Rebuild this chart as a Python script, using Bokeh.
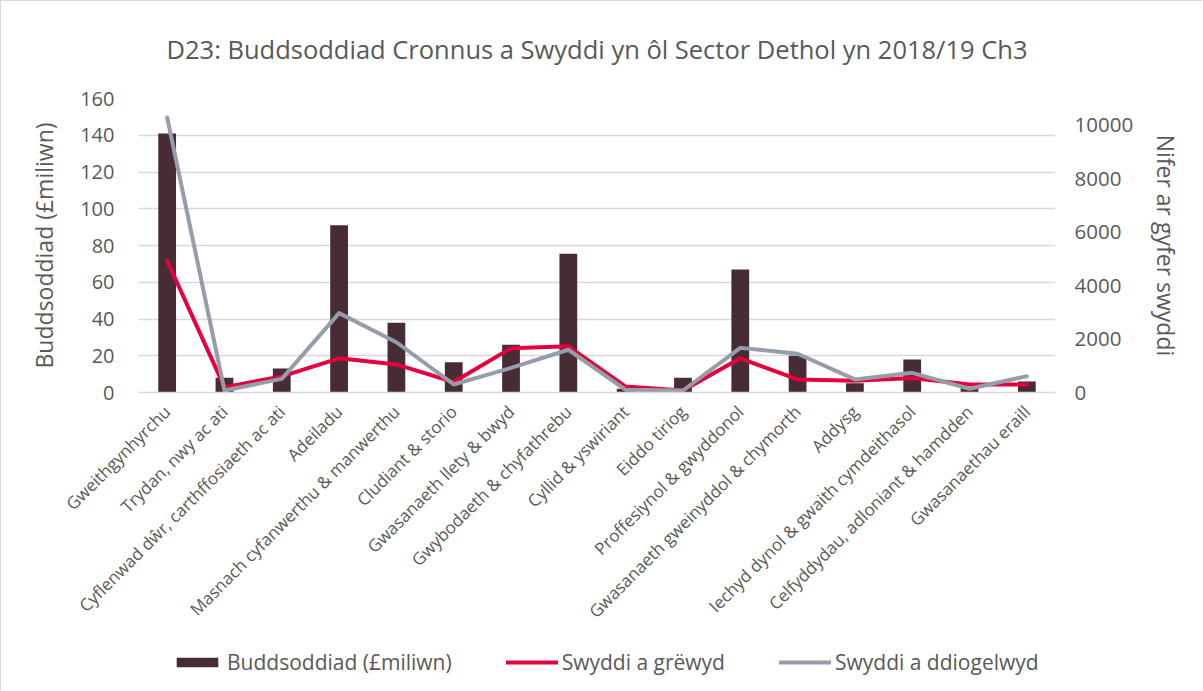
import math
from bokeh.plotting import figure
from bokeh.layouts import column
from bokeh.models import Range1d, LinearAxis, FactorRange, Legend, LegendItem, FixedTicker, ColumnDataSource
from bokeh.embed import file_html
from bokeh.resources import INLINE

categories = [
    "Gweithgynhyrchu", "Trydan, nwy ac ati", "Cyflenwad dŵr, carthffosiaeth ac ati",
    "Adeiladu", "Masnach cyfanwerthu & manwerthu", "Cludiant & storio",
    "Gwasanaeth llety & bwyd", "Gwybodaeth & chyfathrebu", "Cyllid & yswiriant",
    "Eiddo tiriog", "Proffesiynol & gwyddonol", "Gwasanaeth gweinyddol & chymorth",
    "Addysg", "Iechyd dynol & gwaith cymdeithasol", "Celfyddydau, adloniant & hamdden",
    "Gwasanaethau eraill",
]
investment = [141, 8, 13, 91, 38, 16.5, 26, 75.5, 2, 8, 67, 20, 5, 18, 2.5, 6]
jobs_created = [4930, 200, 600, 1280, 1050, 390, 1660, 1730, 220, 75, 1280, 490, 440, 540, 300, 300]
jobs_safeguarded = [10290, 75, 510, 2970, 1880, 300, 920, 1600, 100, 75, 1670, 1450, 490, 735, 140, 610]
left_ticks = [0, 20, 40, 60, 80, 100, 120, 140, 160]
right_ticks = [0, 2000, 4000, 6000, 8000, 10000]

title_text = "D23: Buddsoddiad Cronnus a Swyddi yn ôl Sector Dethol yn 2018/19 Ch3"
left_label = "Buddsoddiad (£miliwn)"
right_label = "Nifer ar gyfer swyddi"
series_names = ["Buddsoddiad (£miliwn)", "Swyddi a grëwyd", "Swyddi a ddiogelwyd"]

TXT = "#595959"
FONT = "Open Sans"
BAR_C, RED_C, GREY_C = "#472C36", "#E6003C", "#959DA8"

src = ColumnDataSource(dict(cat=categories, inv=investment, jc=jobs_created, js=jobs_safeguarded))

p = figure(
    x_range=FactorRange(*categories, range_padding=0),
    y_range=Range1d(0, 160),
    width=1202, height=640,
    output_backend="svg", toolbar_location=None,
    title=title_text + "\n\u00a0",
    min_border_left=137, min_border_right=148, min_border_top=97, min_border_bottom=249,
)
p.styles = {"border-left": "1px solid #d9d9d9", "border-top": "1px solid #d9d9d9"}
p.outline_line_color = None
p.extra_y_ranges = {"jobs": Range1d(0, 11000)}

p.title.align = "center"
p.title.text_font = FONT
p.title.text_font_size = "25.5px"
p.title.text_font_style = "normal"
p.title.text_color = TXT
p.title.text_line_height = 0.8

bars = p.vbar(x="cat", top="inv", width=0.31, source=src, fill_color=BAR_C, line_color=None)
p.line(x="cat", y="jc", source=src, y_range_name="jobs", line_color=RED_C, line_width=4, line_join="round", line_cap="round")
p.line(x="cat", y="js", source=src, y_range_name="jobs", line_color=GREY_C, line_width=4, line_join="round", line_cap="round")

p.xgrid.grid_line_color = None
p.ygrid.grid_line_color = "#D9D9D9"
p.ygrid.grid_line_width = 1.5
p.yaxis.ticker = FixedTicker(ticks=left_ticks)

ly = p.yaxis[0]
ly.axis_label = left_label
ly.axis_line_color = None
ly.major_tick_line_color = None
ly.minor_tick_line_color = None
ly.major_label_text_font = FONT
ly.major_label_text_font_size = "20px"
ly.major_label_text_color = TXT
ly.major_label_standoff = 18
ly.axis_label_text_font = FONT
ly.axis_label_text_font_size = "23px"
ly.axis_label_text_font_style = "normal"
ly.axis_label_text_color = TXT
ly.axis_label_standoff = 17

ry = LinearAxis(y_range_name="jobs", ticker=FixedTicker(ticks=right_ticks))
ry.axis_label = right_label
ry.axis_line_color = None
ry.major_tick_line_color = None
ry.minor_tick_line_color = None
ry.major_label_text_font = FONT
ry.major_label_text_font_size = "20.5px"
ry.major_label_text_color = TXT
ry.major_label_standoff = 13
ry.axis_label_text_font = FONT
ry.axis_label_text_font_size = "23px"
ry.axis_label_text_font_style = "normal"
ry.axis_label_text_color = TXT
ry.axis_label_standoff = 14
p.add_layout(ry, "right")

xa = p.xaxis[0]
xa.axis_line_color = "#D9D9D9"
xa.axis_line_width = 1.5
xa.major_tick_line_color = None
xa.minor_tick_line_color = None
xa.major_label_orientation = math.pi / 4
xa.major_label_text_font = FONT
xa.major_label_text_font_size = "17px"
xa.major_label_text_color = TXT
xa.major_label_standoff = 10

# legend strip: a second figure whose renderers use the same data but lie outside
# its ranges, so only the legend shows
lp = figure(
    x_range=FactorRange(*categories, range_padding=0),
    y_range=Range1d(1e6, 1e6 + 1),
    width=1202, height=50,
    output_backend="svg", toolbar_location=None,
    x_axis_location=None, y_axis_location=None,
    min_border_left=137, min_border_right=148, min_border_top=0, min_border_bottom=0,
)
lp.styles = {"border-left": "1px solid #d9d9d9"}
lp.outline_line_color = None
lp.grid.visible = False
lb = lp.vbar(x="cat", top="inv", width=0.31, source=src, fill_color=BAR_C, line_color=None)
ll1 = lp.line(x="cat", y="jc", source=src, line_color=RED_C, line_width=4, line_cap="round")
ll2 = lp.line(x="cat", y="js", source=src, line_color=GREY_C, line_width=4, line_cap="round")

legend = Legend(items=[
    LegendItem(label=series_names[0], renderers=[lb]),
    LegendItem(label=series_names[1], renderers=[ll1]),
    LegendItem(label=series_names[2], renderers=[ll2]),
], orientation="horizontal", location=(33, 14))
legend.border_line_color = None
legend.background_fill_alpha = 0
legend.label_text_font = FONT
legend.label_text_font_size = "21px"
legend.label_text_color = TXT
legend.glyph_width = 52
legend.glyph_height = 12
legend.label_standoff = 4
legend.spacing = 54
legend.padding = 4
legend.margin = 0
lp.add_layout(legend, "center")

open("out.html", "w").write(file_html(column(p, lp, spacing=0), INLINE))
